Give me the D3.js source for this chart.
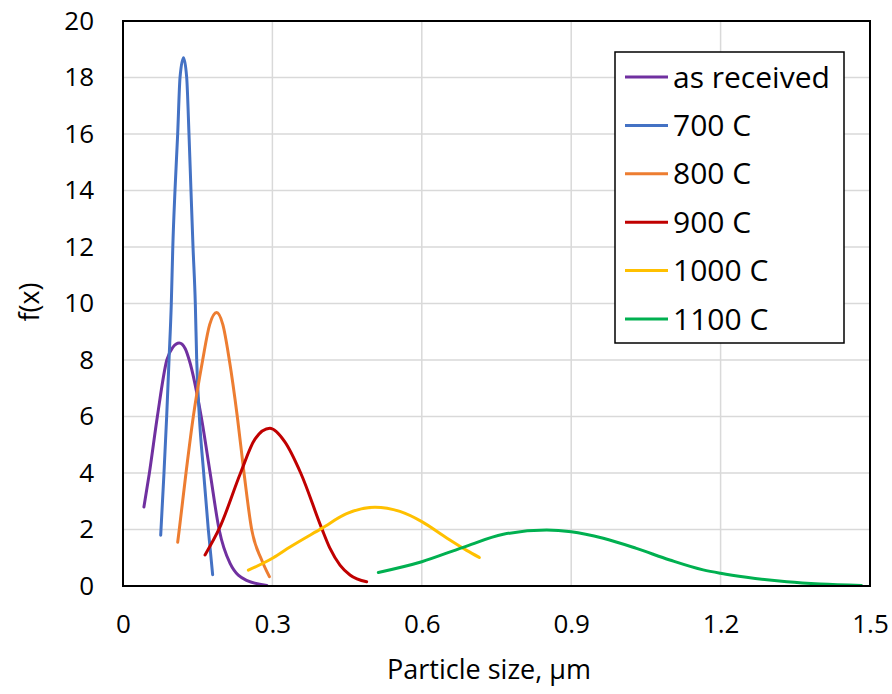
<!DOCTYPE html>
<html>
<head>
<meta charset="utf-8">
<script src="https://cdn.jsdelivr.net/npm/d3@7/dist/d3.min.js"></script>
<style>
  html, body { margin: 0; padding: 0; background: #fff; }
  svg { display: block; font-family: "Open Sans", "Noto Sans", sans-serif; }
</style>
</head>
<body>
<svg id="chart" width="892" height="694"></svg>
<script>
// Particle size distributions (f(x) vs particle size in µm) for each treatment
const seriesNames = ["as received", "700 C", "800 C", "900 C", "1000 C", "1100 C"];
const seriesColors = ["#7030A0", "#4472C4", "#ED7D31", "#C00000", "#FFC000", "#00B050"];

const xAsReceived = [0.042, 0.053, 0.069, 0.088, 0.1, 0.113, 0.125, 0.133, 0.157, 0.175, 0.193, 0.215, 0.248, 0.289];
const yAsReceived = [2.8, 4, 6, 8, 8.45, 8.6, 8.4, 8, 6, 4, 2, 0.8, 0.2, 0.02];

const x700 = [0.0757, 0.0823, 0.0877, 0.0924, 0.097, 0.1, 0.1044, 0.1098, 0.1145, 0.1215, 0.1279, 0.1325, 0.1365, 0.1406, 0.1452, 0.148, 0.1533, 0.162, 0.1713, 0.18];
const y700 = [1.8, 4, 6, 8, 10, 12, 14, 16, 18, 18.7, 18, 16, 14, 12, 10, 8, 6, 4, 2, 0.4];

const x800 = [0.1098, 0.113, 0.1265, 0.1412, 0.16, 0.174, 0.188, 0.2005, 0.2135, 0.2295, 0.243, 0.2584, 0.2785, 0.294];
const y800 = [1.55, 2, 4, 6, 8, 9.25, 9.68, 9.25, 8, 6, 4, 2, 0.92, 0.33];

const x900 = [0.1647, 0.195, 0.236, 0.265, 0.295, 0.325, 0.3568, 0.399, 0.4157, 0.4357, 0.4558, 0.4893];
const y900 = [1.1, 2.1, 4, 5.2, 5.58, 5.1, 4, 2.04, 1.33, 0.74, 0.39, 0.15];

const x1000 = [0.2517, 0.3018, 0.3353, 0.399, 0.449, 0.506, 0.556, 0.6, 0.65, 0.69, 0.7155];
const y1000 = [0.56, 1.0, 1.38, 2.04, 2.56, 2.79, 2.64, 2.28, 1.7, 1.26, 1.01];

const x1100 = [0.5127, 0.6, 0.683, 0.7637, 0.8508, 0.9, 0.9644, 1.031, 1.098, 1.165, 1.2, 1.252, 1.333, 1.4, 1.483];
const y1100 = [0.48, 0.86, 1.37, 1.83, 1.98, 1.92, 1.69, 1.33, 0.92, 0.57, 0.45, 0.31, 0.15, 0.07, 0.02];

const xTicks = [0, 0.3, 0.6, 0.9, 1.2, 1.5];
const yTicks = [0, 2, 4, 6, 8, 10, 12, 14, 16, 18, 20];

const seriesX = [xAsReceived, x700, x800, x900, x1000, x1100];
const seriesY = [yAsReceived, y700, y800, y900, y1000, y1100];

const series = seriesNames.map((name, i) => ({
  name,
  color: seriesColors[i],
  points: seriesX[i].map((x, j) => ({ x, y: seriesY[i][j] }))
}));

const svg = d3.select("#chart");
const plot = { left: 123, right: 870, top: 21, bottom: 586 };

const x = d3.scaleLinear().domain([0, 1.5]).range([plot.left, plot.right]);
const y = d3.scaleLinear().domain([0, 20]).range([plot.bottom, plot.top]);

// Gridlines
const grid = svg.append("g");
grid.selectAll("line.h").data(yTicks.slice(1, -1)).join("line")
  .attr("x1", plot.left).attr("x2", plot.right)
  .attr("y1", d => y(d)).attr("y2", d => y(d))
  .attr("stroke", "#d9d9d9").attr("stroke-width", 1.5);
grid.selectAll("line.v").data(xTicks.slice(1, -1)).join("line")
  .attr("y1", plot.top).attr("y2", plot.bottom)
  .attr("x1", d => x(d)).attr("x2", d => x(d))
  .attr("stroke", "#d9d9d9").attr("stroke-width", 1.5);

// Axes (labels only; frame drawn separately)
const xAxis = svg.append("g")
  .attr("transform", `translate(0,${plot.bottom})`)
  .call(d3.axisBottom(x).tickValues(xTicks).tickSize(0).tickPadding(29)
    .tickFormat(d => d === 0 ? "0" : d3.format(".1f")(d)));
const yAxis = svg.append("g")
  .attr("transform", `translate(${plot.left},0)`)
  .call(d3.axisLeft(y).tickValues(yTicks).tickSize(0).tickPadding(29)
    .tickFormat(d3.format("d")));
[xAxis, yAxis].forEach(a => {
  a.select(".domain").remove();
  a.selectAll("text").attr("font-size", 26).attr("fill", "#000")
    .attr("font-family", "'Open Sans', 'Noto Sans', sans-serif");
});

// Curves
const line = d3.line()
  .x(d => x(d.x)).y(d => y(d.y))
  .curve(d3.curveMonotoneX);

svg.append("g").selectAll("path").data(series).join("path")
  .attr("d", d => line(d.points))
  .attr("fill", "none")
  .attr("stroke", d => d.color)
  .attr("stroke-width", 3)
  .attr("stroke-linecap", "round")
  .attr("stroke-linejoin", "round");

// Plot frame
svg.append("rect")
  .attr("x", plot.left).attr("y", plot.top)
  .attr("width", plot.right - plot.left).attr("height", plot.bottom - plot.top)
  .attr("fill", "none").attr("stroke", "#000").attr("stroke-width", 2);

// Axis titles
svg.append("text")
  .attr("x", 489).attr("y", 679)
  .attr("text-anchor", "middle").attr("font-size", 27).attr("fill", "#000")
  .text("Particle size, µm");
svg.append("text")
  .attr("transform", "translate(39,302) rotate(-90)")
  .attr("text-anchor", "middle").attr("font-size", 27).attr("fill", "#000")
  .text("f(x)");

// Legend
const legend = svg.append("g");
legend.append("rect")
  .attr("x", 615).attr("y", 52).attr("width", 229).attr("height", 291)
  .attr("fill", "#fff").attr("stroke", "#000").attr("stroke-width", 1.5);
const rowY = d3.scaleLinear().domain([0, 5]).range([77, 319]);
const rows = legend.selectAll("g.row").data(series).join("g")
  .attr("transform", (d, i) => `translate(0,${rowY(i)})`);
rows.append("line")
  .attr("x1", 625).attr("x2", 668).attr("y1", 0).attr("y2", 0)
  .attr("stroke", d => d.color).attr("stroke-width", 3);
rows.append("text")
  .attr("x", 673).attr("y", 0).attr("dy", "0.35em")
  .attr("font-size", 30).attr("fill", "#000")
  .text(d => d.name);
</script>
</body>
</html>
